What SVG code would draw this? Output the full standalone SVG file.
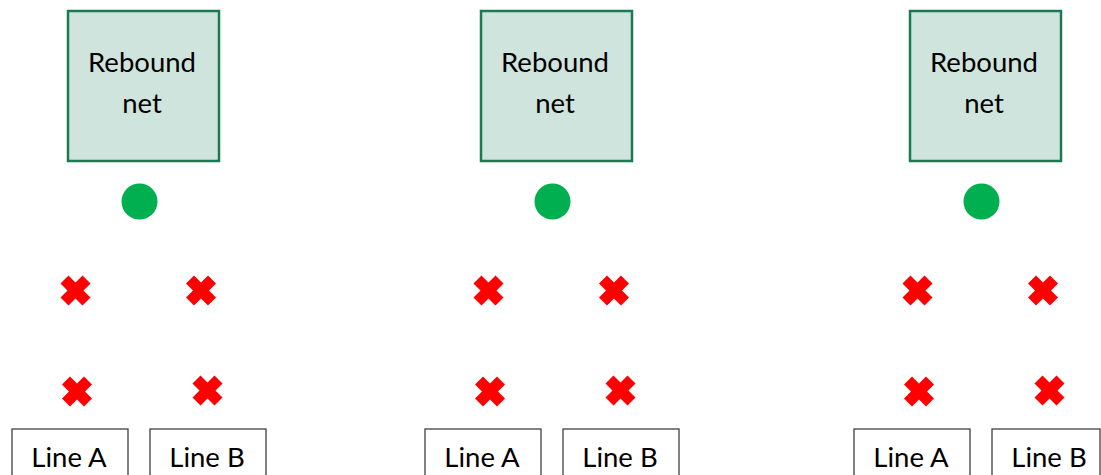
<svg xmlns="http://www.w3.org/2000/svg" width="1101" height="475" viewBox="0 0 1101 475">
<style>
.net{fill:#cfe4dc;stroke:#1a7a52;stroke-width:2.5}
.ball{fill:#00b050}
.line{fill:#fff;stroke:#404040;stroke-width:1.3}
.lbl{font-family:Lato,"Open Sans",sans-serif;font-size:27.5px;fill:#000;text-anchor:middle}
.x{fill:#ff0000}
</style>
<defs>
<path id="cross" d="M-7,-15 L0,-8 L7,-15 L15,-7 L8,0 L15,7 L7,15 L0,8 L-7,15 L-15,7 L-8,0 L-15,-7 Z"/>
</defs>
<rect width="1101" height="475" fill="#fff"/>
<g id="setup1">
<g id="net1"><rect class="net" x="68" y="11" width="151" height="150"/><text class="lbl" x="142" y="72">Rebound</text><text class="lbl" x="142" y="113">net</text></g>
<g id="ball1"><circle class="ball" cx="139.5" cy="201.5" r="18"/></g>
<g id="crosses1"><use href="#cross" class="x" x="75.5" y="290.5"/><use href="#cross" class="x" x="201" y="290.5"/><use href="#cross" class="x" x="77" y="391.5"/><use href="#cross" class="x" x="207.5" y="390.5"/></g>
<g id="lineA1"><rect class="line" x="12" y="429" width="116" height="52"/><text class="lbl" x="69" y="467">Line A</text></g>
<g id="lineB1"><rect class="line" x="150" y="429" width="116" height="52"/><text class="lbl" x="207" y="467">Line B</text></g>
</g>
<g id="setup2">
<g id="net2"><rect class="net" x="481" y="11" width="151" height="150"/><text class="lbl" x="555" y="72">Rebound</text><text class="lbl" x="555" y="113">net</text></g>
<g id="ball2"><circle class="ball" cx="552.5" cy="201.5" r="18"/></g>
<g id="crosses2"><use href="#cross" class="x" x="488.5" y="290.5"/><use href="#cross" class="x" x="614" y="290.5"/><use href="#cross" class="x" x="490" y="391.5"/><use href="#cross" class="x" x="620.5" y="390.5"/></g>
<g id="lineA2"><rect class="line" x="425" y="429" width="116" height="52"/><text class="lbl" x="482" y="467">Line A</text></g>
<g id="lineB2"><rect class="line" x="563" y="429" width="116" height="52"/><text class="lbl" x="620" y="467">Line B</text></g>
</g>
<g id="setup3">
<g id="net3"><rect class="net" x="910" y="11" width="151" height="150"/><text class="lbl" x="984" y="72">Rebound</text><text class="lbl" x="984" y="113">net</text></g>
<g id="ball3"><circle class="ball" cx="981.5" cy="201.5" r="18"/></g>
<g id="crosses3"><use href="#cross" class="x" x="917.5" y="290.5"/><use href="#cross" class="x" x="1043" y="290.5"/><use href="#cross" class="x" x="919" y="391.5"/><use href="#cross" class="x" x="1049.5" y="390.5"/></g>
<g id="lineA3"><rect class="line" x="854" y="429" width="116" height="52"/><text class="lbl" x="911" y="467">Line A</text></g>
<g id="lineB3"><rect class="line" x="992" y="429" width="108" height="52"/><text class="lbl" x="1049" y="467">Line B</text></g>
</g>
<g id="connectors"/>
</svg>
